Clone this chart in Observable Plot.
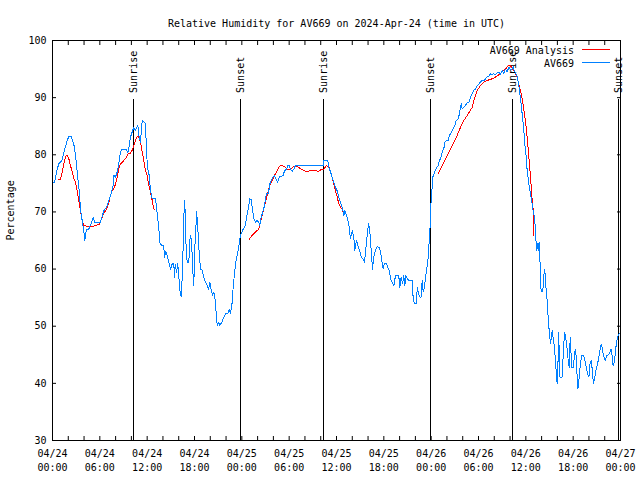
<!DOCTYPE html>
<html><head><meta charset="utf-8">
<script src="https://cdn.jsdelivr.net/npm/d3@7"></script>
<script src="https://cdn.jsdelivr.net/npm/@observablehq/plot@0.6"></script>
<style>body{margin:0;background:#fff}</style>
</head><body><div id="chart"></div>
<script>
const title = "Relative Humidity for AV669 on 2024-Apr-24 (time in UTC)";
const yLabel = "Percentage";
const seriesNames = ["AV669 Analysis", "AV669"];
const seriesColors = ["#ff0000", "#0080ff"];
const startUTC = Date.UTC(2024, 3, 24);
const xTickHours = [0, 6, 12, 18, 24, 30, 36, 42, 48, 54, 60, 66, 72];
const xMinorTickHours = [0,2,4,6,8,10,12,14,16,18,20,22,24,26,28,30,32,34,36,38,40,42,44,46,48,50,52,54,56,58,60,62,64,66,68,70,72];
const yTicks = [30, 40, 50, 60, 70, 80, 90, 100];
const sunEventHours = [10.31, 23.87, 34.39, 47.95, 58.35, 71.8];
const sunEventLabels = ["Sunrise", "Sunset", "Sunrise", "Sunset", "Sunrise", "Sunset"];

// AV669 observations: [hours since 2024-04-24 00:00 UTC, RH %]
const observed = [
[0,75],[0.25,75.2],[0.6,77.5],[0.8,78.4],[1.2,79],[1.5,80.7],[1.86,82.5],[2.07,83.2],[2.37,83.2],[2.62,82.2],[2.79,81.3],[3.04,78.4],[3.2,76.1],[3.38,73.7],[3.55,70.5],[3.76,68.5],[3.97,66.7],[4.1,65],[4.31,67],[4.6,67],[4.9,67.9],[5.16,69],[5.37,68.2],[6.08,68.2],[6.3,69.2],[6.5,70.2],[6.84,70.8],[7.14,72],[7.44,73.2],[7.69,74.6],[7.77,76.4],[7.99,76.1],[8.2,77],[8.4,78.4],[8.62,80.5],[8.83,81],[9.38,81],[9.55,80.3],[9.72,81.6],[9.89,83.1],[10.1,84],[10.3,84.8],[10.52,84.3],[10.65,84.8],[10.82,85.1],[10.94,83.4],[11.15,82.2],[11.37,86],[11.66,85.7],[11.79,85.4],[11.92,80.2],[12.08,77.5],[12.26,76.4],[12.42,73.7],[12.64,72.3],[13.06,72.3],[13.27,69.7],[13.47,67.3],[13.6,64.7],
[13.69,64.4],[13.9,64.1],[14.1,64.1],[14.2,62.1],[14.36,63],[14.54,62.4],[14.74,61.2],[14.96,60],[15.17,60.9],[15.38,60.9],[15.46,58.6],[15.55,60.9],[15.72,59.4],[15.88,60.9],[16.0,58.9],[16.14,56.3],[16.31,55.1],[16.44,58.6],[16.56,63.8],[16.64,69.1],[16.77,72.1],[16.9,65],[17.07,61.2],[17.28,61.2],[17.4,65],[17.53,65.9],[17.66,63.8],[17.78,59.8],[17.91,57.1],[18.04,63.8],[18.17,66.7],[18.25,70],[18.38,68.2],[18.55,63.8],[18.76,60],[18.98,59.8],[19.18,58.6],[19.39,57.7],[19.61,57.1],[19.81,56.5],[19.94,57.7],[20.12,56.3],[20.28,55.4],[20.45,56],[20.62,54.5],[20.79,51.6],[20.88,50.1],[21.04,50.7],[21.21,50.1],[21.46,50.7],[21.72,51.6],[21.97,52.2],[22.22,52.2],[22.4,53],[22.56,52.2],[22.78,54.2],[22.9,56.8],[23.07,59.2],[23.24,61.2],[23.41,62.4],[23.58,63.5],[23.74,65.3],[23.92,66.2],
[24.17,67],[24.38,67.3],[24.55,68.5],[24.68,69.7],[24.85,70.8],[25.0,72.3],[25.22,72.1],[25.35,70.2],[25.44,69.7],[25.52,68.8],[25.73,68.2],[25.94,68.5],[26.15,68.2],[26.28,67.6],[26.45,69.1],[26.71,70.2],[26.87,71.1],[27.13,73.3],[27.38,73.3],[27.55,74.9],[27.72,75.5],[27.97,76.1],[28.14,76.4],[28.39,75.5],[28.56,75.2],[28.73,76.1],[28.9,76.2],[29.24,76.4],[29.41,77.2],[29.66,77.5],[29.83,78.1],[30.0,78.1],[30.17,77.5],[30.38,77.1],[30.59,77.5],[30.8,78.1],[31.1,78.1],[34.3,78.1],[34.4,79],[34.9,79],[35.03,77.8],[35.24,77],[35.45,76.1],[35.66,75.2],[35.87,74.3],[36.09,73.7],[36.29,72.6],[36.51,71.7],[36.72,70.8],[36.93,69.4],[37.05,70.2],[37.27,69.4],[37.44,68.5],[37.56,67.9],[37.77,65.3],[37.99,66.7],[38.19,65.6],[38.32,63.3],[38.54,65],[38.7,64.1],[38.92,63.3],[39.13,62.1],[39.34,61.8],[39.55,61.2],[39.68,63],[39.89,65.9],[40.06,68],[40.22,66.7],[40.4,63.3],[40.56,60],[40.73,62.1],[40.94,63.3],[41.16,63.9],[41.41,63.8],[41.58,63],[41.74,61.5],[41.92,60],[42.08,61],[42.34,61],[42.5,60.3],[42.68,59.8],[42.85,58.3],[43.06,57.7],[43.27,57.1],[43.48,58.9],[43.89,58.9],[44.02,56.8],[44.2,58.6],[44.37,57.4],[44.53,58.9],[44.66,57.1],[44.79,58.9],[44.96,58.3],[45.17,58],[45.6,58],[45.72,54.8],[45.89,53.9],[46.14,53.9],[46.23,56.8],[46.39,55.7],[46.56,55.1],[46.74,55.1],[46.86,58],[46.99,56],[47.15,56.8],[47.28,58.6],[47.41,59.8],[47.57,61.2],[47.7,63.8],[47.83,66.5],[47.92,69.1],[48.0,72.3],[48.13,74.3],
[48.21,76.1],[48.46,77],[48.68,77.8],[48.89,78.1],[49.05,79],[49.18,79.3],[49.31,79.9],[49.47,80.8],[49.6,81],[49.73,82.2],[49.9,82.5],[50.16,82.5],[50.32,83.4],[50.58,84],[50.74,84.5],[51.0,85.1],[51.17,86],[51.42,86.3],[51.59,87.2],[51.72,88.3],[51.84,89],[51.93,88],[52.14,88.3],[52.35,88.6],[52.57,89.2],[52.78,89.2],[52.99,90.1],[53.2,90.7],[53.4,91.3],[53.62,91.5],[53.84,92.1],[54.04,92.4],[54.25,92.7],[54.47,93],[54.68,92.9],[54.89,93.3],[55.1,93.6],[55.31,93.7],[55.52,94.2],[55.73,94],[55.94,94.2],[56.15,94],[56.36,94.3],[56.57,94.5],[56.78,94],[57.0,94.8],[57.21,94.2],[57.42,95],[57.63,94.5],[57.84,95.3],[58.05,94.9],[58.27,95],[58.4,95.4],[58.52,94.8],[58.69,94.2],[58.86,93.9],[59.03,92.7],[59.2,91.3],[59.32,89.8],[59.45,88.3],[59.62,86],[59.74,84.3],[59.87,81.9],[60.05,79.6],[60.17,77.2],[60.38,74.9],[60.59,73.2],[60.81,71.4],
[60.93,70.2],[61.1,69.1],[61.23,66.7],[61.35,63.3],[61.45,64.4],[61.57,63.3],[61.69,64.7],[61.77,62.7],[61.86,58.3],[61.94,56.1],[62.15,56.1],[62.28,58.9],[62.4,60],[62.53,57.1],[62.7,54.5],[62.83,51.6],[62.96,49.2],[63.13,46.9],[63.34,49.2],[63.47,47.8],[63.63,46.3],[63.76,43.7],[63.89,41.4],[63.97,39.9],[64.05,42.2],[64.17,48.9],[64.3,41.1],[64.6,41.1],[64.81,46.9],[64.94,48.9],[65.11,47.5],[65.24,46],[65.37,44],[65.5,42.8],[65.58,46.6],[65.66,48.1],[65.79,42.8],[66.04,42.8],[66.17,45.2],[66.3,46],[66.42,44],[66.51,40.8],[66.6,39.1],[66.72,40.5],[66.9,43.1],[67.06,44.9],[67.31,44.9],[67.49,44],[67.65,42.8],[67.82,41.7],[68.0,41.1],[68.15,43.7],[68.32,44],[68.45,41.7],[68.58,39.9],[68.7,40.8],[68.88,42.2],[69.09,43.4],[69.26,44.6],[69.43,46],[69.55,46.9],[69.67,46.3],[69.75,45.5],[69.92,44.6],[70.09,44],[70.26,44.9],[70.47,45],[70.68,45.5],[70.81,46],[70.93,44.9],[71.06,43.1],[71.23,43.7],[71.36,45.7],[71.53,47.5],[71.7,48.4],[71.83,48.7]
];

// AV669 Analysis: three separate segments
const analysisSeg1 = [[0.67,75.6],[1.01,75.6],[1.23,77],[1.43,78.4],[1.65,79.7],[1.86,79.9],[2.07,79.3],[2.28,78.1],[2.5,77],[2.7,75.8],[2.92,75.2],[3.13,73.7],[3.33,72],[3.55,70.2],[3.76,68.5],[3.97,67.6],[4.82,67.4],[5.45,67.6],[6.0,67.9],[6.21,68.8],[6.5,69.7],[6.72,70.2],[6.93,70.8],[7.14,71.7],[7.35,72.9],[7.57,73.7],[7.77,74],[7.99,74.9],[8.2,76.1],[8.4,77.5],[8.62,78.4],[8.83,78.7],[9.04,79],[9.25,79.3],[9.47,79.9],[9.67,80.3],[9.89,80.3],[10.1,80.8],[10.3,81.6],[10.52,82.5],[10.73,83.2],[10.94,83.1],[11.15,82.2],[11.37,80.5],[11.57,79],[11.79,77.2],[12.0,76.4],[12.21,74.6],[12.42,73.5],[12.64,72],[12.84,70.5],[12.97,70.4]];
const analysisSeg2 = [[24.89,65.1],[25.31,65.9],[25.73,66.5],[26.15,67],[26.36,68.2],[26.58,69.4],[26.78,70.5],[27.0,71.7],[27.21,72.9],[27.42,74],[27.63,74.9],[27.85,75.5],[28.05,76.1],[28.27,76.7],[28.48,77.2],[28.69,77.8],[28.9,78.1],[29.32,78],[29.75,77.5],[30.17,77.5],[30.51,77.9],[30.8,78.1],[31.2,77.8],[31.65,77.4],[32.07,77.1],[32.7,77.2],[33.34,77.2],[33.76,77.1],[34.05,77.4],[34.39,77.5],[34.73,78.1],[35.03,77.9],[35.24,77],[35.45,76.1],[35.66,74.9],[35.87,73.7],[36.09,72.6],[36.29,71.4],[36.51,70.8],[36.72,70.5],[36.93,69.4]];
const analysisSeg3 = [[48.89,76.7],[49.18,77.5],[49.6,78.7],[50.03,79.9],[50.45,81],[50.87,82.2],[51.3,83.4],[51.72,84.8],[52.14,86],[52.57,86.9],[52.99,87.8],[53.2,88.3],[53.4,89.5],[53.62,90.4],[53.84,91.3],[54.25,92.1],[54.67,92.7],[55.1,93],[55.73,93.3],[56.15,93.6],[56.57,94],[57.0,94.5],[57.42,95],[57.76,95.6],[58.05,95.6],[58.35,95],[58.6,94.5],[58.9,93.6],[59.1,92.4],[59.32,91.3],[59.53,89.8],[59.74,88],[59.95,86],[60.17,83.1],[60.38,79.6],[60.59,76.1],[60.81,72],[60.93,70.5],[61.0,65.9]];

const toDate = h => new Date(startUTC + h * 3600e3);
const obsData = observed.map(([h, v]) => ({t: toDate(h), v}));
const anaData = [analysisSeg1, analysisSeg2, analysisSeg3].flatMap((seg, i) => seg.map(([h, v]) => ({t: toDate(h), v, seg: i})));
const sunData = sunEventHours.map((h, i) => ({t: toDate(h), label: sunEventLabels[i]}));
const fmt = d3.utcFormat("%m/%d\n%H:%M");
const font = "DejaVu Sans Mono";

const chart = Plot.plot({
  width: 640, height: 480,
  marginLeft: 52, marginRight: 20, marginTop: 40, marginBottom: 40,
  style: {fontFamily: font, fontSize: "10px", background: "white", color: "black"},
  x: {type: "utc", domain: [toDate(0), toDate(72)]},
  y: {domain: [30, 100]},
  marks: [
    Plot.ruleX(sunData, {x: "t", y1: 30, y2: 89.6, stroke: "black", shapeRendering: "crispEdges"}),
    Plot.text(sunData, {x: "t", y: 89.6, text: "label", rotate: -90, textAnchor: "start", dy: -7, fontSize: 10}),
    Plot.line(anaData, {x: "t", y: "v", z: "seg", stroke: seriesColors[0], strokeWidth: 1, shapeRendering: "crispEdges"}),
    Plot.line(obsData, {x: "t", y: "v", stroke: seriesColors[1], strokeWidth: 1, shapeRendering: "crispEdges"}),
    Plot.frame({stroke: "black", shapeRendering: "crispEdges"}),
    Plot.axisX({anchor: "bottom", ticks: xMinorTickHours.map(toDate), tickSize: -4, fill: "none", label: null}),
    Plot.axisX({anchor: "top", ticks: xMinorTickHours.map(toDate), tickSize: -4, fill: "none", label: null}),
    Plot.axisX({anchor: "bottom", ticks: xTickHours.map(toDate), tickSize: 0, tickPadding: 7, tickFormat: fmt, lineHeight: 1.4, fontSize: 10, label: null}),
    Plot.axisY({anchor: "left", ticks: yTicks, tickSize: -4, fill: "none", label: null}),
    Plot.axisY({anchor: "right", ticks: yTicks, tickSize: -4, fill: "none", label: null}),
    Plot.axisY({anchor: "left", ticks: yTicks, tickSize: 0, tickPadding: 6, fontSize: 10, label: null}),
    Plot.text([title], {frameAnchor: "top", dy: -21, fontSize: 10}),
    Plot.text([yLabel], {frameAnchor: "left", dx: -42, rotate: -90, fontSize: 10})
  ]
});
document.getElementById("chart").appendChild(chart);

// legend inside the plot, top-right
const svg = d3.select(chart);
const lg = svg.append("g").attr("font-family", font).attr("font-size", 10);
seriesNames.forEach((name, i) => {
  const cy = 50.5 + i * 12.8;
  lg.append("text").attr("x", 574).attr("y", cy).attr("dy", "0.32em").attr("text-anchor", "end").attr("fill", "black").text(name);
  lg.append("line").attr("x1", 582).attr("x2", 610).attr("y1", cy - 1).attr("y2", cy - 1).attr("stroke", seriesColors[i]).attr("shape-rendering", "crispEdges");
});
</script>
</body></html>
